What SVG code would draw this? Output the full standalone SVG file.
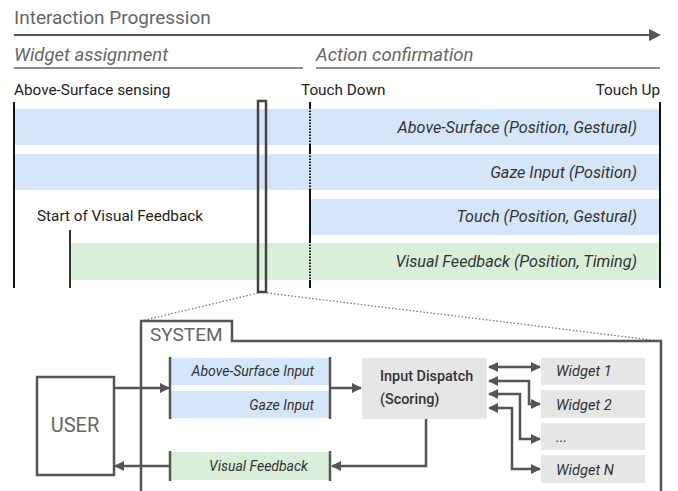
<svg xmlns="http://www.w3.org/2000/svg" width="678" height="491" viewBox="0 0 678 491">
<defs>
<style>
text{font-family:Roboto,"Liberation Sans",sans-serif;}
.hd{fill:#666;font-size:19px;}
.sub{fill:#666;font-size:18.5px;font-style:italic;}
.lbl{fill:#222;font-size:15.3px;}
.bt{fill:#333;font-size:16.2px;font-style:italic;text-anchor:end;}
.st{fill:#333;font-size:14px;font-style:italic;}
.wt{fill:#333;font-size:14.6px;font-style:italic;}
.blue{fill:#d5e6fa;}
.green{fill:#d9efd9;}
.grey{fill:#e6e6e6;}
.ln{stroke:#555;stroke-width:2.5;fill:none;}
.blk{stroke:#111;stroke-width:2;fill:none;}
</style>
<marker id="ah" viewBox="0 0 10 10" refX="9" refY="5" markerWidth="4" markerHeight="4" orient="auto-start-reverse" markerUnits="strokeWidth">
<path d="M0,0 L10,5 L0,10 z" fill="#555"/>
</marker>
</defs>
<rect width="678" height="491" fill="#fff"/>

<g id="header">
<text class="hd" x="14" y="24">Interaction Progression</text>
<line x1="14" y1="35" x2="651" y2="35" stroke="#555" stroke-width="2"/>
<path d="M649,29 L661,35 L649,41 z" fill="#555"/>
<text class="sub" x="14" y="61">Widget assignment</text>
<line x1="14" y1="68" x2="303" y2="68" stroke="#666" stroke-width="1.5"/>
<text class="sub" x="316" y="61">Action confirmation</text>
<line x1="316" y1="68" x2="660" y2="68" stroke="#666" stroke-width="1.5"/>
<text class="lbl" x="14" y="95">Above-Surface sensing</text>
<text class="lbl" x="301" y="95">Touch Down</text>
<text class="lbl" x="660" y="95" text-anchor="end">Touch Up</text>
<text class="lbl" x="37" y="221">Start of Visual Feedback</text>
</g>

<g id="bar-above">
<rect class="blue" x="15" y="109" width="645" height="36"/>
<text class="bt" x="637" y="133">Above-Surface (Position, Gestural)</text>
</g>
<g id="bar-gaze">
<rect class="blue" x="15" y="154" width="645" height="36"/>
<text class="bt" x="637" y="178">Gaze Input (Position)</text>
</g>
<g id="bar-touch">
<rect class="blue" x="311" y="199" width="349" height="36"/>
<text class="bt" x="637" y="222">Touch (Position, Gestural)</text>
</g>
<g id="bar-feedback">
<rect class="green" x="70" y="243" width="590" height="37"/>
<text class="bt" x="637" y="267">Visual Feedback (Position, Timing)</text>
</g>

<g id="timeline-marks">
<line class="blk" x1="14" y1="102" x2="14" y2="288"/>
<line class="blk" x1="660" y1="102" x2="660" y2="288"/>
<line x1="70" y1="230" x2="70" y2="288" stroke="#333" stroke-width="2"/>
<line x1="310" y1="102" x2="310" y2="288" stroke="#111" stroke-width="2"/>
<line x1="310" y1="109" x2="310" y2="145" stroke="#d5e6fa" stroke-width="2.2" stroke-dasharray="1.5 1.5"/>
<line x1="310" y1="154" x2="310" y2="190" stroke="#d5e6fa" stroke-width="2.2" stroke-dasharray="1.5 1.5"/>
<line x1="310" y1="243" x2="310" y2="280" stroke="#d9efd9" stroke-width="2.2" stroke-dasharray="1.5 1.5"/>
<rect x="258" y="101" width="8" height="191" fill="none" stroke="#444" stroke-width="2.5"/>
<line x1="258" y1="293" x2="141" y2="321" stroke="#777" stroke-width="1.3" stroke-dasharray="1.5 2"/>
<line x1="267" y1="293" x2="660" y2="341" stroke="#777" stroke-width="1.3" stroke-dasharray="1.5 2"/>
</g>

<g id="system">
<path class="ln" d="M141,495 L141,321 L232,321 L232,341 L661,341 L661,495"/>
<text x="150" y="341" fill="#666" font-size="19">SYSTEM</text>
</g>

<g id="user">
<rect x="37" y="377" width="77" height="98" fill="#fff" stroke="#555" stroke-width="2.5"/>
<text x="75" y="432" fill="#666" font-size="20" text-anchor="middle">USER</text>
</g>

<g id="inputs">
<rect class="blue" x="170" y="358" width="160" height="27"/>
<rect class="blue" x="170" y="391" width="160" height="27"/>
<line class="ln" x1="170" y1="357" x2="170" y2="419"/>
<line class="ln" x1="330" y1="357" x2="330" y2="419"/>
<text class="st" x="314" y="376" text-anchor="end">Above-Surface Input</text>
<text class="st" x="314" y="410" text-anchor="end">Gaze Input</text>
</g>

<g id="feedback">
<rect class="green" x="170" y="452" width="160" height="28"/>
<line class="ln" x1="170" y1="451" x2="170" y2="481"/>
<line class="ln" x1="330" y1="451" x2="330" y2="481"/>
<text class="st" x="308" y="471" text-anchor="end">Visual Feedback</text>
</g>

<g id="dispatch">
<rect class="grey" x="362" y="358" width="125" height="61"/>
<text x="380" y="381" fill="#333" font-size="14.4" font-weight="500">Input Dispatch</text>
<text x="380" y="404" fill="#333" font-size="14.4" font-weight="500">(Scoring)</text>
</g>

<g id="widget1"><rect class="grey" x="541" y="358" width="104" height="27"/><text class="wt" x="556" y="376">Widget 1</text></g>
<g id="widget2"><rect class="grey" x="541" y="390" width="104" height="28"/><text class="wt" x="556" y="410">Widget 2</text></g>
<g id="widget3"><rect class="grey" x="541" y="423" width="104" height="27"/><text class="wt" x="556" y="442">...</text></g>
<g id="widgetN"><rect class="grey" x="541" y="455" width="104" height="28"/><text class="wt" x="556" y="475">Widget N</text></g>

<g id="connectors" stroke="#555" stroke-width="2.5" fill="none">
<line x1="114" y1="388" x2="169" y2="388" marker-end="url(#ah)"/>
<line x1="169" y1="466" x2="115" y2="466" marker-end="url(#ah)"/>
<line x1="331" y1="388" x2="361" y2="388" marker-end="url(#ah)"/>
<polyline points="426,419 426,466 332,466" marker-end="url(#ah)"/>
<line x1="489" y1="367" x2="540" y2="367" marker-start="url(#ah)" marker-end="url(#ah)"/>
<polyline points="489,381 529,381 529,404 540,404" marker-start="url(#ah)" marker-end="url(#ah)"/>
<polyline points="489,394 520,394 520,439 540,439" marker-start="url(#ah)" marker-end="url(#ah)"/>
<polyline points="489,408 512,408 512,469 540,469" marker-start="url(#ah)" marker-end="url(#ah)"/>
</g>
</svg>
